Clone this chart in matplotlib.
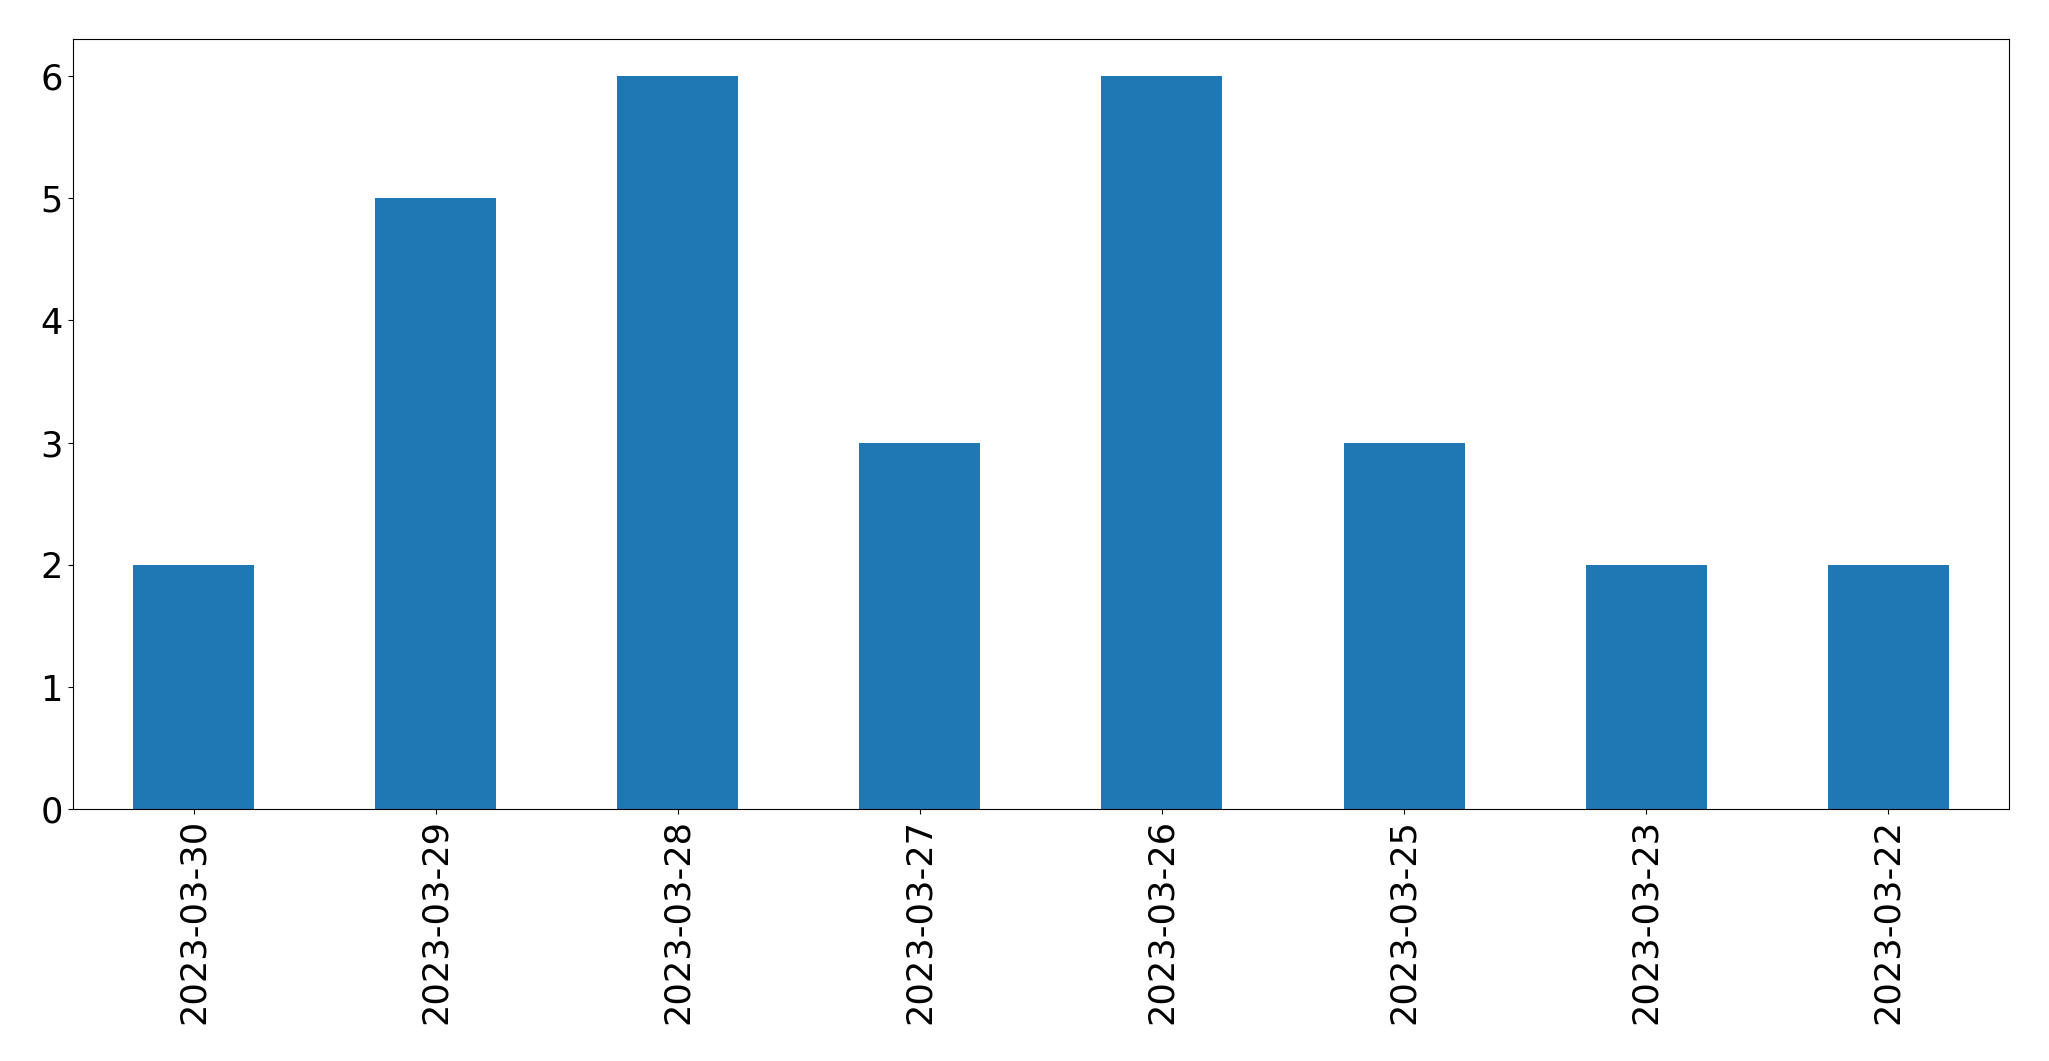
import matplotlib
matplotlib.use('Agg')
import matplotlib.pyplot as plt

# fechas y conteos
fechas = ['2023-03-30', '2023-03-29', '2023-03-28', '2023-03-27',
          '2023-03-26', '2023-03-25', '2023-03-23', '2023-03-22']
conteos = [2, 5, 6, 3, 6, 3, 2, 2]

fig, ax = plt.subplots(figsize=(20.49, 10.61), dpi=100)
fig.subplots_adjust(left=72.5 / 2049, right=2009.3 / 2049,
                    top=1 - 39.3 / 1061, bottom=1 - 809.3 / 1061)

pos = list(range(len(fechas)))
ax.bar(pos, conteos, width=0.5, color='#1f77b4')
ax.set_xticks(pos)
ax.set_xticklabels(fechas, rotation=90)
ax.set_xlim(-0.5, len(fechas) - 0.5)
ax.tick_params(labelsize=25.3)

fig.savefig('out.png', dpi=100)
